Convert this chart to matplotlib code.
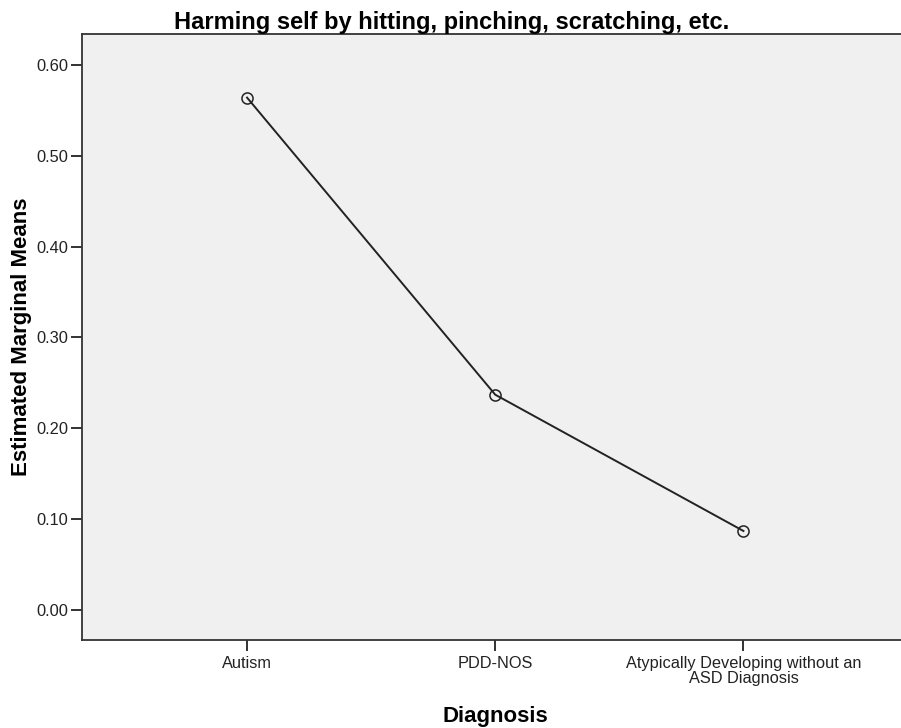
import matplotlib
matplotlib.use('Agg')
import matplotlib.pyplot as plt

plt.rcParams['font.family'] = ['Liberation Sans', 'DejaVu Sans']

# 數據
groups = ['Autism', 'PDD-NOS', 'Atypically Developing without an\nASD Diagnosis']
means = [0.564, 0.237, 0.087]
yticks = [0.0, 0.1, 0.2, 0.3, 0.4, 0.5, 0.6]

fig = plt.figure(figsize=(9.01, 7.28), dpi=100)
ax = fig.add_axes([81.5 / 901, 1 - 640 / 728, (909 - 81.5) / 901, (640 - 34) / 728])
ax.set_facecolor('#f0f0f0')

x = list(range(len(groups)))
ax.plot(x, means, color='#222222', linewidth=1.4, marker='o', markersize=8,
        markerfacecolor='none', markeredgecolor='#222222', markeredgewidth=1.1)

ax.set_xlim(-0.667, 2.667)
ax.set_ylim(-0.033, 0.634)
ax.set_yticks(yticks)
ax.set_yticklabels([f'{v:.2f}' for v in yticks])
ax.set_xticks(x)
ax.set_xticklabels(groups, linespacing=0.97)

for s in ['left', 'bottom', 'top']:
    ax.spines[s].set_color('#333333')
    ax.spines[s].set_linewidth(1.3)
ax.spines['right'].set_visible(False)

ax.tick_params(axis='both', labelsize=11.8, colors='#222222', length=8, width=1.3, pad=1.5)
ax.tick_params(axis='x', pad=3.5)

ax.set_ylabel('Estimated Marginal Means', fontsize=16, fontweight='bold', labelpad=3)
ax.set_xlabel('Diagnosis', fontsize=16, fontweight='bold', labelpad=15)
fig.text(452 / 901, 1 - 29 / 728, 'Harming self by hitting, pinching, scratching, etc.',
         ha='center', va='baseline', fontsize=17, fontweight='bold')

fig.savefig('out.png', dpi=100)
